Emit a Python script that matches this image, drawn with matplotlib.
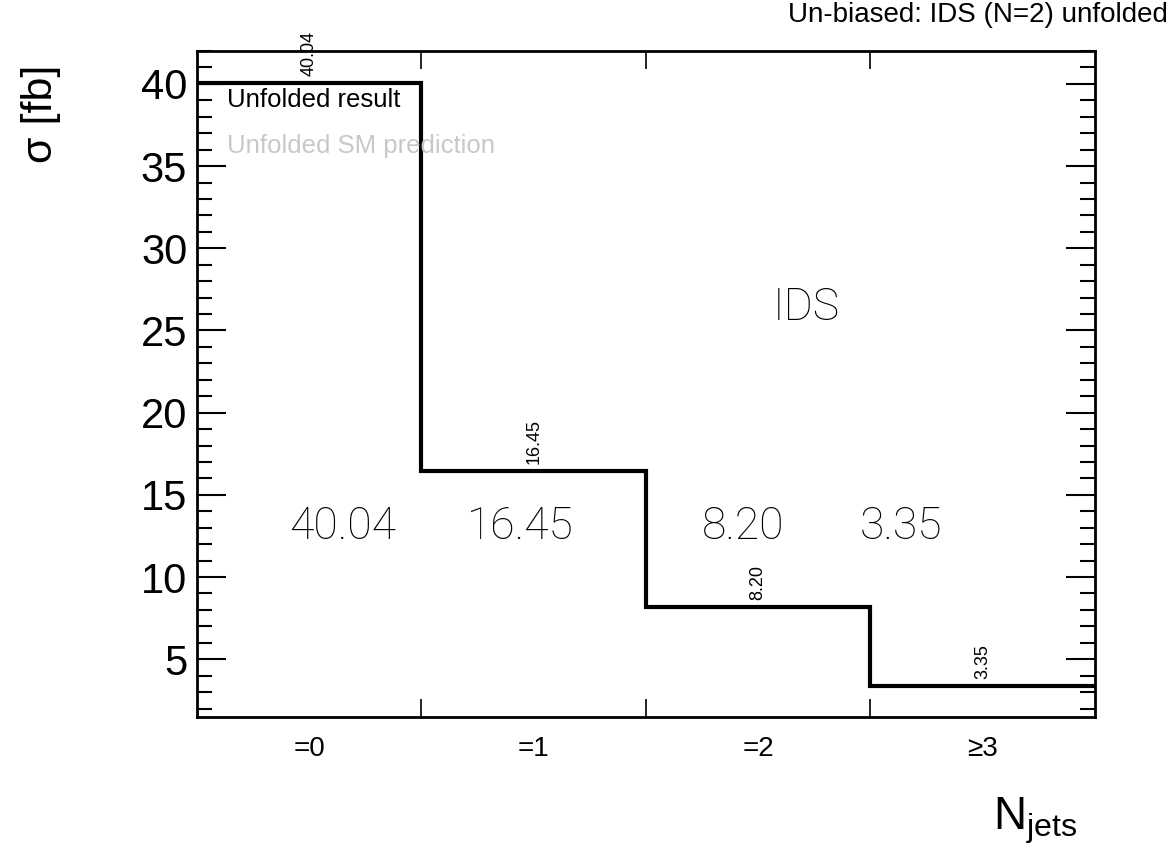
import numpy as np
import matplotlib
matplotlib.use('Agg')
import matplotlib.pyplot as plt
from matplotlib.ticker import MultipleLocator, FixedLocator

# data
categories = ['=0', '=1', '=2', '\u22653']
xsec = [40.04, 16.45, 8.20, 3.35]
big_labels = ['40.04', '16.45', '8.20', '3.35']

plt.rcParams['font.family'] = ['Liberation Sans', 'DejaVu Sans']
plt.rcParams['mathtext.fontset'] = 'custom'
plt.rcParams['mathtext.rm'] = 'Liberation Sans'

fig = plt.figure(figsize=(11.74, 8.5), dpi=100)
ax = fig.add_axes([0.1678, 0.1568, 0.7649, 0.7832])

edges = np.arange(len(xsec) + 1)
centers = edges[:-1] + 0.5

# histogram outline
ax.stairs(xsec, edges, color='black', linewidth=3, baseline=None)

# small rotated value labels above each bin
for c, v in zip(centers, xsec):
    ax.annotate('%.2f' % v, (c, v), xytext=(0, 5), textcoords='offset points',
                rotation=90, ha='center', va='bottom', fontsize=13)

ax.set_xlim(0, 4)
ax.set_ylim(1.5, 42.0)

# y axis ticks on both sides, pointing in
ax.yaxis.set_major_locator(MultipleLocator(5))
ax.yaxis.set_minor_locator(MultipleLocator(1))
ax.tick_params(axis='y', which='both', direction='in', left=True, right=True,
               labelsize=30, pad=7, width=1.5)
ax.tick_params(axis='y', which='major', length=21)
ax.tick_params(axis='y', which='minor', length=11)
ax.set_yticks([5, 10, 15, 20, 25, 30, 35, 40])

# x axis: ticks at bin edges, labels at bin centres
ax.xaxis.set_major_locator(FixedLocator(edges[1:-1]))
ax.xaxis.set_minor_locator(FixedLocator(centers))
ax.xaxis.set_major_formatter(plt.NullFormatter())
ax.set_xticks(centers, categories, minor=True)
ax.tick_params(axis='x', which='major', direction='in', top=True, bottom=True,
               length=13, width=1.2)
ax.tick_params(axis='x', which='minor', length=0, labelsize=20, pad=14)

for s in ax.spines.values():
    s.set_linewidth(2)

# legend-like texts
ax.text(0.0334, 0.926, 'Unfolded result', transform=ax.transAxes,
        fontsize=18.5, ha='left', va='center', color='black')
ax.text(0.0334, 0.857, 'Unfolded SM prediction', transform=ax.transAxes,
        fontsize=18.5, ha='left', va='center', color='#c8c8c8')

# big numbers in the middle
big_x = [0.1626, 0.3597, 0.608, 0.784]
for bx, lab in zip(big_x, big_labels):
    ax.text(bx, 0.285, lab, transform=ax.transAxes, fontsize=32,
            family='Roboto', fontweight='light', ha='center', va='center')
ax.text(0.678, 0.614, 'IDS', transform=ax.transAxes, fontsize=32,
        family='Roboto', fontweight='light', ha='center', va='center')

# titles
fig.text(1168 / 1174, 1 - 15 / 850, 'Un-biased: IDS (N=2) unfolded',
         fontsize=20, ha='right', va='center')
fig.text(41 / 1174, 1 - 65 / 850, '\u03c3 [fb]', fontsize=31,
         rotation=90, ha='center', va='top')
fig.text(1077 / 1174, 20 / 850, r'$\mathregular{N_{jets}}$', fontsize=33,
         ha='right', va='baseline')

fig.savefig('out.png', dpi=100)
